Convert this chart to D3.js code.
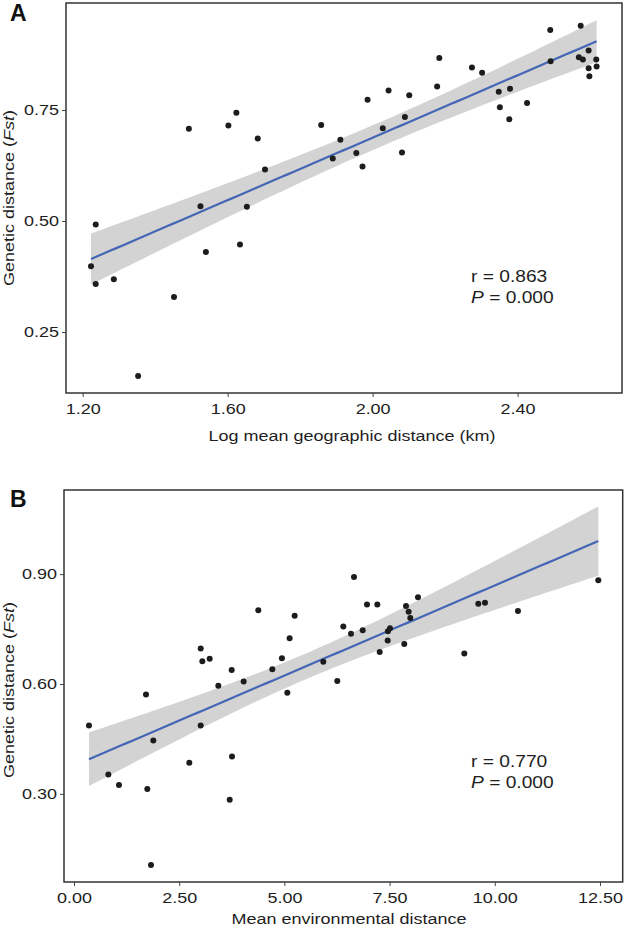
<!DOCTYPE html>
<html>
<head>
<meta charset="utf-8">
<script src="https://cdn.jsdelivr.net/npm/d3@7"></script>
<style>
  html, body { margin: 0; padding: 0; background: #fff; }
  svg { display: block; font-family: "Liberation Sans", Arial, Helvetica, sans-serif; }
</style>
</head>
<body>
<svg id="chart" width="633" height="928"></svg>
<script>
// ---------- Panel A data: log mean geographic distance vs Fst ----------
const geoX = [1.223, 1.236, 1.236, 1.286, 1.353, 1.452, 1.493, 1.525, 1.540, 1.602,
              1.624, 1.634, 1.653, 1.683, 1.703, 1.858, 1.890, 1.911, 1.955, 1.972,
              1.986, 2.028, 2.044, 2.081, 2.089, 2.101, 2.178, 2.184, 2.274, 2.302,
              2.348, 2.351, 2.377, 2.379, 2.426, 2.490, 2.491, 2.569, 2.574, 2.580,
              2.596, 2.596, 2.598, 2.617, 2.618];
const geoFst = [0.398, 0.492, 0.358, 0.369, 0.151, 0.329, 0.708, 0.533, 0.430, 0.715,
                0.744, 0.447, 0.532, 0.686, 0.616, 0.716, 0.641, 0.683, 0.653, 0.623,
                0.773, 0.709, 0.794, 0.654, 0.734, 0.783, 0.803, 0.867, 0.846, 0.834,
                0.791, 0.756, 0.729, 0.798, 0.766, 0.930, 0.860, 0.869, 0.940, 0.864,
                0.884, 0.844, 0.826, 0.864, 0.848];
const geoXTicks = [1.2, 1.6, 2.0, 2.4];
const geoYTicks = [0.25, 0.50, 0.75];

// ---------- Panel B data: mean environmental distance vs Fst ----------
const envX = [0.356, 0.816, 1.069, 1.711, 1.742, 1.885, 1.830, 2.740, 3.011, 3.011,
              3.050, 3.224, 3.430, 3.700, 3.755, 3.747, 4.032, 4.380, 4.713, 4.941,
              5.070, 5.124, 5.244, 5.925, 6.257, 6.400, 6.583, 6.654, 6.861, 6.963,
              7.208, 7.265, 7.455, 7.460, 7.510, 7.849, 7.890, 7.953, 7.992, 8.175,
              9.276, 9.608, 9.767, 10.551, 12.460];
const envFst = [0.487, 0.353, 0.324, 0.571, 0.313, 0.446, 0.106, 0.385, 0.487, 0.697,
                0.662, 0.669, 0.595, 0.284, 0.402, 0.638, 0.607, 0.801, 0.640, 0.670,
                0.576, 0.725, 0.786, 0.661, 0.608, 0.757, 0.737, 0.892, 0.747, 0.817,
                0.817, 0.687, 0.719, 0.744, 0.752, 0.709, 0.813, 0.797, 0.780, 0.837,
                0.683, 0.819, 0.822, 0.799, 0.883];
const envXTicks = [0, 2.5, 5, 7.5, 10, 12.5];
const envYTicks = [0.30, 0.60, 0.90];

const svg = d3.select("#chart");
const SX = 1.2;          // horizontal widening of the (Helvetica-like) lettering
const FS = "15px";
const TXT = "#1e1e1e";

// OLS fit with 95% confidence band
function fitLm(xs, ys) {
  const n = xs.length;
  const mx = d3.mean(xs), my = d3.mean(ys);
  let sxx = 0, sxy = 0;
  for (let i = 0; i < n; i++) { sxx += (xs[i]-mx)**2; sxy += (xs[i]-mx)*(ys[i]-my); }
  const b = sxy / sxx, a = my - b*mx;
  let sse = 0;
  for (let i = 0; i < n; i++) sse += (ys[i] - a - b*xs[i])**2;
  const s = Math.sqrt(sse / (n - 2));
  const t = 2.017;
  return x => {
    const yhat = a + b*x;
    const se = s * Math.sqrt(1/n + (x-mx)**2 / sxx);
    return { x, y: yhat, lo: yhat - t*se, hi: yhat + t*se };
  };
}

function panel(cfg) {
  const g = svg.append("g");
  const x = d3.scaleLinear().domain(cfg.xDomain).range([cfg.left, cfg.right]);
  const y = d3.scaleLinear().domain(cfg.yDomain).range([cfg.bottom, cfg.top]);

  const f = fitLm(cfg.xs, cfg.ys);
  const [x0, x1] = d3.extent(cfg.xs);
  const fitPts = d3.range(0, 81).map(i => f(x0 + (x1-x0)*i/80));

  g.append("path").datum(fitPts)
    .attr("fill", "#d3d3d3")
    .attr("d", d3.area().x(d => x(d.x)).y0(d => y(d.lo)).y1(d => y(d.hi)));
  g.append("path").datum(fitPts)
    .attr("fill", "none").attr("stroke", "#4466b5").attr("stroke-width", 2.2)
    .attr("d", d3.line().x(d => x(d.x)).y(d => y(d.y)));

  g.append("g").selectAll("circle")
    .data(cfg.xs.map((v, i) => [v, cfg.ys[i]]))
    .join("circle")
    .attr("cx", d => x(d[0])).attr("cy", d => y(d[1]))
    .attr("r", 3).attr("fill", "#1c1c1c");

  // axes
  const xa = g.append("g").attr("transform", `translate(0,${cfg.bottom})`)
    .call(d3.axisBottom(x).tickValues(cfg.xTicks).tickFormat(d3.format(".2f")).tickSize(4).tickPadding(6));
  const ya = g.append("g").attr("transform", `translate(${cfg.left},0)`)
    .call(d3.axisLeft(y).tickValues(cfg.yTicks).tickFormat(d3.format(".2f")).tickSize(4).tickPadding(3));
  [xa, ya].forEach(a => {
    a.select(".domain").remove();
    a.selectAll("line").attr("stroke", "#444");
    a.selectAll("text").attr("fill", TXT).style("font-size", FS)
      .each(function () {
        const t = d3.select(this);
        const x0 = +t.attr("x") || 0;
        t.attr("x", x0 / SX).attr("transform", `scale(${SX},1)`);
      });
  });

  // frame
  g.append("rect")
    .attr("x", cfg.left).attr("y", cfg.top)
    .attr("width", cfg.right - cfg.left).attr("height", cfg.bottom - cfg.top)
    .attr("fill", "none").attr("stroke", "#333").attr("stroke-width", 1.5);

  // x title
  g.append("text")
    .attr("transform", `translate(${cfg.xTitleX},${cfg.xTitleY}) scale(${SX},1)`)
    .attr("text-anchor", "middle").attr("fill", TXT).style("font-size", FS)
    .text(cfg.xTitle);
  // y title
  const yt = g.append("text")
    .attr("transform", `translate(14,${cfg.yTitleY}) rotate(-90) scale(${SX},1)`)
    .attr("text-anchor", "middle").attr("fill", TXT).style("font-size", FS);
  yt.append("tspan").text("Genetic distance (");
  yt.append("tspan").style("font-style", "italic").text("Fst");
  yt.append("tspan").text(")");

  // panel letter
  g.append("text").attr("x", 10).attr("y", cfg.letterY)
    .attr("fill", "#111").style("font-size", "23px").style("font-weight", "bold")
    .text(cfg.letter);

  // statistics
  const st = g.append("text")
    .attr("transform", `translate(${cfg.statX},${cfg.statY}) scale(${SX},1)`)
    .attr("fill", TXT).style("font-size", "16px");
  st.append("tspan").attr("x", 0).text(`r = ${cfg.r}`);
  const p = st.append("tspan").attr("x", 0).attr("dy", 21);
  p.append("tspan").style("font-style", "italic").text("P");
  p.append("tspan").text(" = 0.000");
}

panel({
  xs: geoX, ys: geoFst, xTicks: geoXTicks, yTicks: geoYTicks,
  xDomain: [1.154, 2.688], yDomain: [0.1126, 0.991],
  left: 66, right: 622, top: 3, bottom: 393,
  xTitle: "Log mean geographic distance (km)", xTitleX: 352, xTitleY: 441, yTitleY: 198,
  letter: "A", letterY: 21, r: "0.863", statX: 471, statY: 282
});

panel({
  xs: envX, ys: envFst, xTicks: envXTicks, yTicks: envYTicks,
  xDomain: [-0.2376, 13.04], yDomain: [0.0594, 1.1296],
  left: 64, right: 622.7, top: 490, bottom: 882,
  xTitle: "Mean environmental distance", xTitleX: 349, xTitleY: 924, yTitleY: 690,
  letter: "B", letterY: 507, r: "0.770", statX: 471, statY: 767
});
</script>
</body>
</html>
